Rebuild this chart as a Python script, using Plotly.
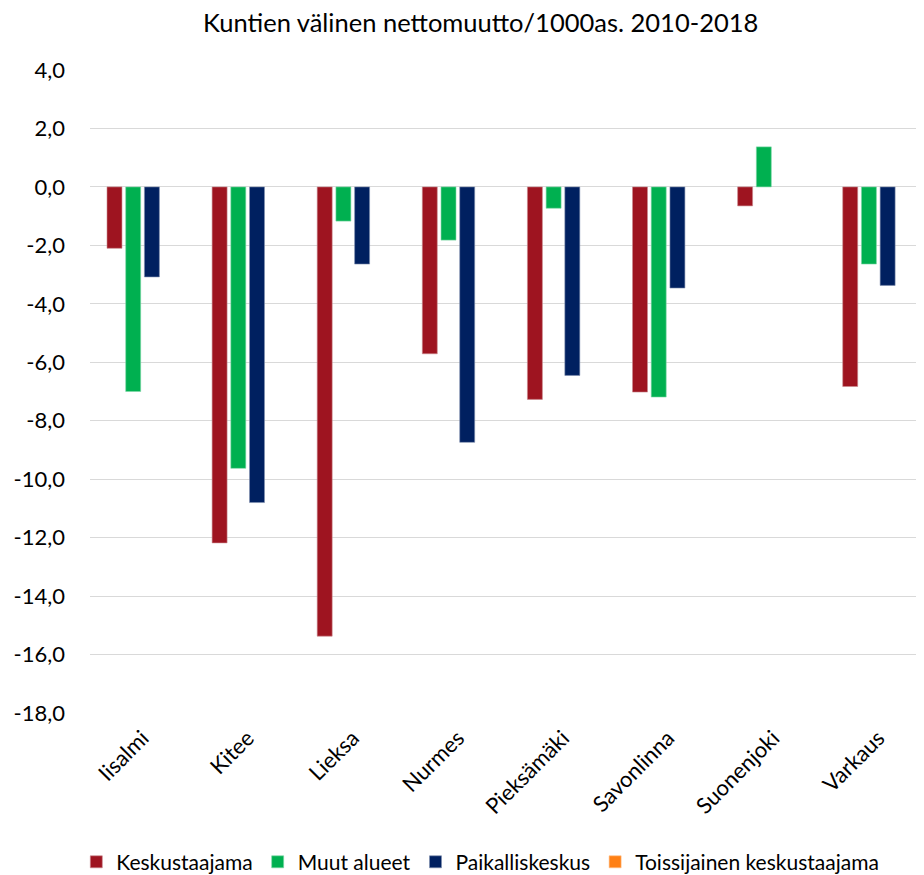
import plotly.graph_objects as go

categories = ["Iisalmi", "Kitee", "Lieksa", "Nurmes", "Pieksämäki", "Savonlinna", "Suonenjoki", "Varkaus"]
keskustaajama = [-2.10, -12.18, -15.37, -5.71, -7.27, -7.02, -0.65, -6.83]
muut_alueet = [-7.00, -9.63, -1.17, -1.82, -0.73, -7.19, 1.37, -2.64]
paikalliskeskus = [-3.08, -10.80, -2.64, -8.74, -6.45, -3.46, None, -3.37]
toissijainen = [None, None, None, None, None, None, None, None]

series_names = ["Keskustaajama", "Muut alueet", "Paikalliskeskus", "Toissijainen keskustaajama"]
series_values = [keskustaajama, muut_alueet, paikalliskeskus, toissijainen]
series_colors = ["#9E1420", "#00B050", "#002060", "#FF8014"]
series_lines = ["#C98A8F", "#7FD7A7", "#7F8FAF", "#FFBF89"]

tick_vals = [4, 2, 0, -2, -4, -6, -8, -10, -12, -14, -16, -18]
tick_text = ["4,0", "2,0", "0,0", "-2,0", "-4,0", "-6,0", "-8,0", "-10,0", "-12,0", "-14,0", "-16,0", "-18,0"]

FONT = "Lato, Calibri, sans-serif"

fig = go.Figure()
for name, vals, col, lc in zip(series_names, series_values, series_colors, series_lines):
    fig.add_trace(go.Bar(x=categories, y=vals, name=name,
                         marker=dict(color=col, line=dict(color=lc, width=0.6))))

fig.update_layout(
    width=916, height=867,
    barmode="group", bargap=0.288, bargroupgap=0.2,
    plot_bgcolor="white", paper_bgcolor="white",
    margin=dict(l=82, r=0, t=62, b=162, autoexpand=False),
    font=dict(family=FONT, color="#000000"),
    title=dict(text="Kuntien välinen nettomuutto/1000as. 2010-2018",
               x=0.516, xanchor="center", xref="container",
               y=0.983, yanchor="middle", yref="container",
               font=dict(size=25.5, family=FONT, color="#000000")),
    legend=dict(orientation="h", x=0.468, xanchor="center", y=-0.232, yanchor="middle",
                font=dict(size=21, family=FONT), itemwidth=30, traceorder="normal"),
    showlegend=True,
)
fig.update_xaxes(range=[-0.5, 7.435], tickangle=-45, tickfont=dict(size=22, family=FONT),
                 showline=False, showgrid=False, ticks="", ticklabelstandoff=7)
fig.update_yaxes(range=[-18, 4], tickvals=tick_vals, ticktext=tick_text,
                 tickfont=dict(size=22, family=FONT), showgrid=True, gridcolor="#D9D9D9",
                 gridwidth=1.3, zeroline=True, zerolinecolor="#D9D9D9", zerolinewidth=1.3,
                 showline=False, ticks="", ticklabelstandoff=24)

fig.write_html("out.html")
